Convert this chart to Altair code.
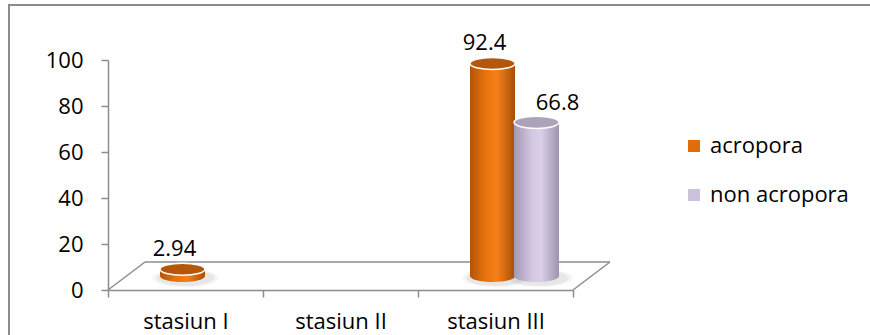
import altair as alt
import pandas as pd

# ---- data ----
categories = ["stasiun I", "stasiun II", "stasiun III"]
series_names = ["acropora", "non acropora"]
acropora = [2.94, None, 92.4]
non_acropora = [None, None, 66.8]
y_ticks = [0, 20, 40, 60, 80, 100]
legend_colors = ["#E36C0A", "#CCC1DA"]

rows = []
for cat, a, n in zip(categories, acropora, non_acropora):
    if a is not None:
        rows.append({"cat": cat, "series": "acropora", "value": a})
    if n is not None:
        rows.append({"cat": cat, "series": "non acropora", "value": n})
df = pd.DataFrame(rows)

W, H = 465, 230
FONT = "Open Sans"
GRAY = "#8c8c8c"
DEPTH_X, DEPTH_Y = 37, -28
LIFT = -14
BAR_W = 45
ELLIPSE = "M -1 0 A 1 0.27 0 1 0 1 0 A 1 0.27 0 1 0 -1 0 Z"

x_enc = alt.X(
    "cat:N",
    scale=alt.Scale(domain=categories, paddingInner=0, paddingOuter=0),
    axis=alt.Axis(labelAngle=0, tickBand="extent", tickSize=7, tickColor=GRAY,
                  tickWidth=1.5, domainColor=GRAY, domainWidth=1.5,
                  labelFont=FONT, labelFontSize=22, labelColor="black",
                  labelPadding=14),
    title=None,
)
y_scale = alt.Scale(domain=[0, 100], nice=False)
y_enc = alt.Y(
    "value:Q", scale=y_scale,
    axis=alt.Axis(values=y_ticks, tickSize=7, tickColor=GRAY, tickWidth=1.5,
                  domainColor=GRAY, domainWidth=1.5, grid=False,
                  labelFont=FONT, labelFontSize=22, labelColor="black",
                  labelPadding=18),
    title=None,
)


def grad(stops):
    return alt.Gradient(
        gradient="linear", x1=0, x2=1, y1=0, y2=0,
        stops=[alt.GradientStop(color=c, offset=o) for o, c in stops],
    )


styles = {
    "acropora": dict(
        ox=-3,
        body=grad([(0, "#B35507"), (0.35, "#E8730E"), (0.6, "#F5801A"), (1, "#A84E06")]),
        cap="#B5570B",
        label_dx=-11, label_dy=-27.5,
    ),
    "non acropora": dict(
        ox=41,
        body=grad([(0, "#A398B4"), (0.4, "#D3C7E2"), (0.6, "#DAD0E8"), (1, "#9E94AE")]),
        cap="#ACA3B9",
        label_dx=62, label_dy=-26.5,
    ),
}

single = alt.Data(values=[{"k": 1}])

frame = alt.Chart(single).mark_rect(
    fillOpacity=0, stroke=GRAY, strokeWidth=2
).encode(x=alt.value(-99), x2=alt.value(W + 400), y=alt.value(-55), y2=alt.value(H + 200))

floor_back = alt.Chart(single).mark_rule(
    color=GRAY, strokeWidth=1.5, xOffset=DEPTH_X, x2Offset=DEPTH_X, yOffset=DEPTH_Y
).encode(x=alt.value(0), x2=alt.value(W), y=alt.datum(0, scale=y_scale))

floor_left = alt.Chart(single).mark_rule(
    color=GRAY, strokeWidth=1.5, x2Offset=DEPTH_X, y2Offset=DEPTH_Y
).encode(x=alt.value(0), x2=alt.value(0), y=alt.datum(0, scale=y_scale), y2=alt.datum(0))

floor_right = alt.Chart(single).mark_rule(
    color=GRAY, strokeWidth=1.5, x2Offset=DEPTH_X, y2Offset=DEPTH_Y
).encode(x=alt.value(W), x2=alt.value(W), y=alt.datum(0, scale=y_scale), y2=alt.datum(0))

layers = [frame, floor_back, floor_left, floor_right]

base = alt.Chart(df)

# soft shadows
for s in series_names:
    st = styles[s]
    for sz, op in [(66, 0.12), (58, 0.2)]:
        layers.append(
            base.transform_filter(alt.datum.series == s).mark_point(
                shape=ELLIPSE, size=sz ** 2, filled=True, color="#b0b0b0", opacity=op,
                strokeWidth=0, xOffset=st["ox"] + 3, yOffset=LIFT + 2,
            ).encode(x=x_enc, y=alt.datum(0, scale=y_scale))
        )

# legend-carrying base bars
for s in series_names:
    st = styles[s]
    layers.append(
        base.transform_filter(alt.datum.series == s).mark_bar(
            width=BAR_W, xOffset=st["ox"], yOffset=LIFT, y2Offset=LIFT,
        ).encode(
            x=x_enc, y=y_enc, y2=alt.datum(0),
            color=alt.Color(
                "series:N",
                scale=alt.Scale(domain=series_names, range=legend_colors),
                legend=alt.Legend(
                    title=None, orient="none", legendX=575, legendY=75,
                    symbolType="square", symbolSize=144, symbolStrokeWidth=0,
                    labelFont=FONT, labelFontSize=22, labelColor="black",
                    labelOffset=5, rowPadding=27, padding=0,
                ),
            ),
        )
    )

# cylinders
for s in series_names:
    st = styles[s]
    sub = base.transform_filter(alt.datum.series == s)
    bottom = sub.mark_point(
        shape=ELLIPSE, size=BAR_W ** 2, filled=True, fill=st["body"], strokeWidth=0,
        opacity=1, xOffset=st["ox"], yOffset=LIFT,
    ).encode(x=x_enc, y=alt.datum(0, scale=y_scale))
    body = sub.mark_bar(
        width=BAR_W, fill=st["body"], xOffset=st["ox"], yOffset=LIFT, y2Offset=LIFT,
    ).encode(x=x_enc, y=y_enc, y2=alt.datum(0))
    cap = sub.mark_point(
        shape=ELLIPSE, size=BAR_W ** 2, filled=True, fill=st["cap"], stroke="white",
        strokeWidth=1.5, opacity=1, xOffset=st["ox"], yOffset=LIFT,
    ).encode(x=x_enc, y=y_enc)
    label = sub.mark_text(
        font=FONT, fontSize=22, color="black", baseline="alphabetic", align="center",
        dx=st["label_dx"], dy=st["label_dy"],
    ).encode(x=x_enc, y=y_enc, text=alt.Text("value:Q"))
    layers += [bottom, body, cap, label]

chart = alt.layer(*layers).properties(
    width=W, height=H,
    autosize=alt.AutoSizeParams(type="none"),
    padding={"left": 108, "top": 60, "right": 297, "bottom": 45},
    background="white",
).configure_view(stroke=None)

chart.save("out.html", embed_options={"renderer": "svg", "actions": False})
